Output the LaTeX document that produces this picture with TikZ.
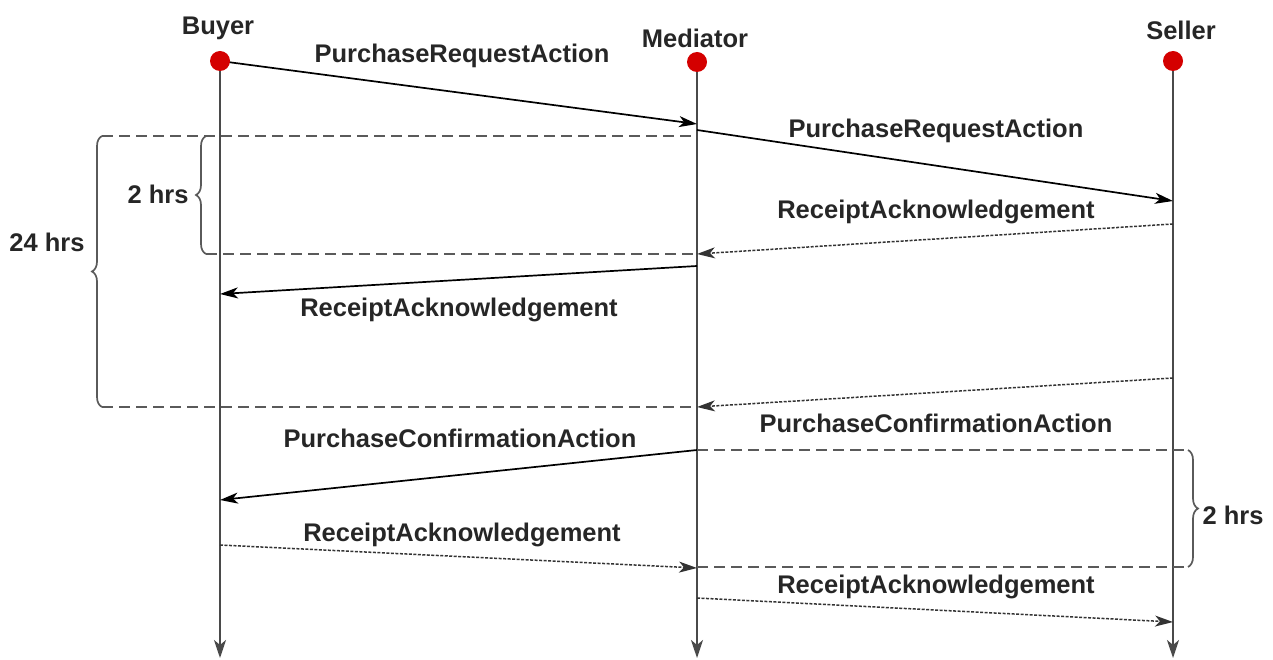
\documentclass[tikz,border=0pt]{standalone}
\usepackage{fontspec}
\setmainfont{Liberation Sans}
\usetikzlibrary{arrows.meta,decorations.pathreplacing}
\definecolor{dotred}{HTML}{D40000}
\definecolor{lifegray}{HTML}{4A4A4A}
\definecolor{dashgray}{HTML}{5A5A5A}
\begin{document}
\begin{tikzpicture}[x=1pt,y=-1pt,
  lbl/.style={font=\fontsize{25.5}{30}\selectfont\bfseries, inner sep=0pt, text=black!85},
  head/.style={circle, fill=dotred, minimum size=20pt, inner sep=0pt},
  life/.style={draw=lifegray, line width=2.2pt, -{Stealth[length=18pt,width=12pt,inset=5pt]}},
  msg/.style={draw=black, line width=1.7pt, -{Stealth[length=18pt,width=11pt,inset=5pt]}},
  ack/.style={draw=black!80, line width=1.5pt, dash pattern=on 3pt off 1.5pt, -{Stealth[length=18pt,width=11pt,inset=5pt]}},
  tline/.style={draw=dashgray, line width=2pt, dash pattern=on 11pt off 6pt},
  bracestyle/.style={draw=dashgray, line width=1.7pt, decorate, decoration={brace, amplitude=10pt}}
]
\useasboundingbox (0,0) rectangle (1273,660);

% participants
\node[lbl] (tb) at (218,28) {Buyer};
\node[lbl] (tm) at (695,38) {Mediator};
\node[lbl] (ts) at (1181,30) {Seller};
\coordinate (bc) at (220,61);
\coordinate (mc) at (697,62);
\coordinate (sc) at (1173,61);
\coordinate (bend) at (220,658);
\coordinate (mend) at (697,658);
\coordinate (send) at (1173,658);
\draw[life] (bc) -- (bend);
\draw[life] (mc) -- (mend);
\draw[life] (sc) -- (send);

% time boxes
\coordinate (t1l) at (102,136); \coordinate (t1r) at (697,136);
\coordinate (t1m) at (206,136);
\coordinate (t2l) at (206,254); \coordinate (t2r) at (697,254);
\coordinate (t3l) at (102,407); \coordinate (t3r) at (697,407);
\coordinate (t4l) at (697,450); \coordinate (t4r) at (1188,450);
\coordinate (t5l) at (697,567); \coordinate (t5r) at (1188,567);
\draw[tline] (t1l) -- (t1r);
\draw[tline] (t2l) -- (t2r);
\draw[tline] (t3l) -- (t3r);
\draw[tline] (t4l) -- (t4r);
\draw[tline] (t5l) -- (t5r);
\draw[bracestyle] (t3l) -- (t1l);
\draw[bracestyle] (t2l) -- (t1m);
\draw[bracestyle] (t4r) -- (t5r);
\node[lbl] (h24) at (47,242) {24 hrs};
\node[lbl] (h2a) at (158,194) {2 hrs};
\node[lbl] (h2b) at (1233,515) {2 hrs};

% messages
\coordinate (m1b) at (697,124);
\coordinate (m2a) at (697,130); \coordinate (m2b) at (1173,201);
\coordinate (m3a) at (1173,224); \coordinate (m3b) at (697,254);
\coordinate (m4a) at (697,266); \coordinate (m4b) at (220,294);
\coordinate (m5a) at (1173,378); \coordinate (m5b) at (697,407);
\coordinate (m6a) at (697,450); \coordinate (m6b) at (220,500);
\coordinate (m7a) at (220,545); \coordinate (m7b) at (697,568);
\coordinate (m8a) at (697,598); \coordinate (m8b) at (1173,622);
\draw[msg] (bc) -- (m1b);
\draw[msg] (m2a) -- (m2b);
\draw[ack] (m3a) -- (m3b);
\draw[msg] (m4a) -- (m4b);
\draw[ack] (m5a) -- (m5b);
\draw[msg] (m6a) -- (m6b);
\draw[ack] (m7a) -- (m7b);
\draw[ack] (m8a) -- (m8b);

\node[head] (b) at (bc) {};
\node[head] (m) at (mc) {};
\node[head] (s) at (sc) {};

\node[lbl] (l1) at (462,56) {PurchaseRequestAction};
\node[lbl] (l2) at (936,131) {PurchaseRequestAction};
\node[lbl] (l3) at (936,212) {ReceiptAcknowledgement};
\node[lbl] (l4) at (459,310) {ReceiptAcknowledgement};
\node[lbl] (l5) at (936,423) {PurchaseConfirmationAction};
\node[lbl] (l6) at (460,438) {PurchaseConfirmationAction};
\node[lbl] (l7) at (462,535) {ReceiptAcknowledgement};
\node[lbl] (l8) at (936,587) {ReceiptAcknowledgement};
\end{tikzpicture}
\end{document}
